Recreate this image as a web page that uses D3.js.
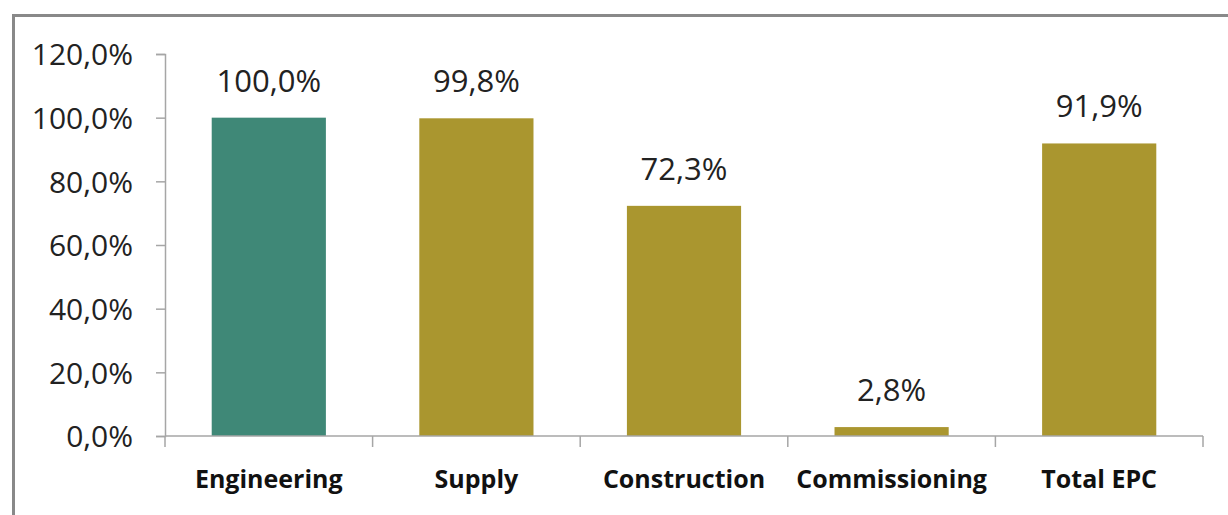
<!DOCTYPE html>
<html><head><meta charset="utf-8">
<script src="https://cdn.jsdelivr.net/npm/d3@7"></script>
<style>html,body{margin:0;padding:0;background:#fff;}svg{display:block;}</style>
</head><body>
<script>
const categories = ["Engineering", "Supply", "Construction", "Commissioning", "Total EPC"];
const values = [1.000, 0.998, 0.723, 0.028, 0.919];
const barColors = ["#3f8877", "#aa962f", "#aa962f", "#aa962f", "#aa962f"];
const yTicks = [0, 0.2, 0.4, 0.6, 0.8, 1.0, 1.2];

const W = 1228, H = 515;
const svg = d3.select("body").append("svg").attr("width", W).attr("height", H);

// frame
svg.append("rect").attr("x", 13.5).attr("y", 15.5).attr("width", 1300).attr("height", 600)
  .attr("fill", "none").attr("stroke", "#898989").attr("stroke-width", 3);

const fmt = v => d3.format(".1f")(v * 100).replace(".", ",") + "%";

const x = d3.scaleBand().domain(categories).range([165, 1203]).paddingInner(0.45).paddingOuter(0.225);
const y = d3.scaleLinear().domain([0, 1.2]).range([436, 54]);

// bars
svg.selectAll("rect.bar").data(categories).join("rect").attr("class", "bar")
  .attr("x", d => x(d)).attr("width", x.bandwidth())
  .attr("y", (d, i) => y(values[i])).attr("height", (d, i) => y(0) - y(values[i]))
  .attr("fill", (d, i) => barColors[i]);

// y axis
const yAxis = svg.append("g").attr("transform", "translate(165,0)")
  .call(d3.axisLeft(y).tickValues(yTicks).tickFormat(fmt).tickSize(9).tickPadding(23));
yAxis.select(".domain").attr("stroke", "#a6a6a6").attr("stroke-width", 1.5);
yAxis.selectAll(".tick line").attr("stroke", "#a6a6a6").attr("stroke-width", 1.5);
yAxis.selectAll(".tick text").attr("font-family", "'Open Sans', sans-serif").attr("font-size", 30)
  .attr("fill", "#222").attr("dy", "0.36em");

// x axis
const step = x.step();
const boundaries = d3.range(categories.length + 1).map(i => 165 + i * step);
svg.append("line").attr("x1", 165).attr("x2", 1203).attr("y1", y(0)).attr("y2", y(0))
  .attr("stroke", "#a6a6a6").attr("stroke-width", 1.5);
svg.selectAll("line.xt").data(boundaries).join("line").attr("class", "xt")
  .attr("x1", d => d).attr("x2", d => d).attr("y1", y(0)).attr("y2", y(0) + 11)
  .attr("stroke", "#a6a6a6").attr("stroke-width", 1.5);
svg.selectAll("text.xl").data(categories).join("text").attr("class", "xl")
  .attr("x", d => x(d) + x.bandwidth() / 2).attr("y", 488)
  .attr("text-anchor", "middle").attr("font-family", "'Open Sans', sans-serif")
  .attr("font-weight", "bold").attr("font-size", 25).attr("fill", "#111").text(d => d);

// value labels
svg.selectAll("text.vl").data(categories).join("text").attr("class", "vl")
  .attr("x", d => x(d) + x.bandwidth() / 2).attr("y", (d, i) => y(values[i]) - 26)
  .attr("text-anchor", "middle").attr("font-family", "'Open Sans', sans-serif")
  .attr("font-size", 31).attr("fill", "#222").text((d, i) => fmt(values[i]));
</script>
</body></html>
